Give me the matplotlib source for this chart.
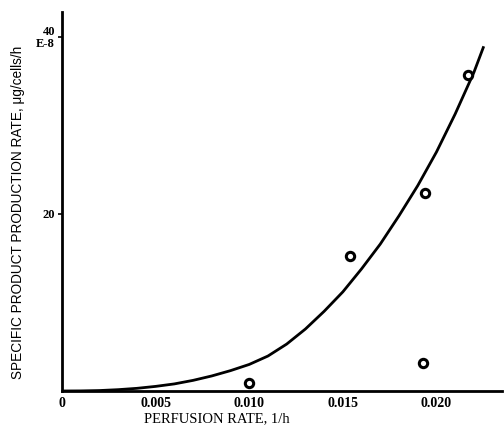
import numpy as np
import matplotlib.pyplot as plt

# measured points (perfusion rate 1/h, specific production rate)
rate = [0.0100, 0.0154, 0.0194, 0.0193, 0.0217]
prod = [0.9, 15.2, 22.4, 3.2, 35.7]

# fitted curve
fit_x = [0.0, 0.001, 0.002, 0.003, 0.004, 0.005, 0.006, 0.007, 0.008, 0.009, 0.010,
         0.011, 0.012, 0.013, 0.014, 0.015, 0.016, 0.017, 0.018, 0.019,
         0.020, 0.021, 0.022, 0.0225]
fit_y = [0.0, 0.01, 0.05, 0.15, 0.3, 0.52, 0.8, 1.2, 1.7, 2.3, 3.0,
         3.95, 5.3, 7.0, 9.0, 11.2, 13.8, 16.6, 19.8, 23.2,
         27.0, 31.3, 36.0, 38.8]

xticks = [0, 0.005, 0.010, 0.015, 0.020]
xlabels = ['0', '0.005', '0.010', '0.015', '0.020']
yticks = [20, 40]
ylabels = ['20', '40\nE-8']

fig = plt.figure(figsize=(5.04, 4.29), dpi=100)
ax = fig.add_axes([0.123, 0.0886, 0.873, 0.883])

ax.plot(fit_x, fit_y, color='black', lw=2)
ax.plot(rate, prod, 'o', ms=6, mfc='white', mec='black', mew=2.2)

ax.set_xlim(0, 0.0235)
ax.set_ylim(0, 42.8)
ax.spines['top'].set_visible(False)
ax.spines['right'].set_visible(False)
ax.spines['left'].set_linewidth(2)
ax.spines['bottom'].set_linewidth(2)

ax.set_xticks(xticks)
ax.set_xticklabels(xlabels, fontfamily='Liberation Serif', fontweight='bold', fontsize=10)
ax.set_yticks(yticks)
ax.set_yticklabels(ylabels, fontfamily='Liberation Serif', fontweight='bold', fontsize=9,
                   linespacing=0.9)
ax.tick_params(axis='x', length=0, pad=4)
ax.tick_params(axis='y', length=3, width=1.2, pad=2)

fig.text(0.43, 0.008, 'PERFUSION RATE, 1/h', ha='center', va='bottom',
         fontfamily='Liberation Serif', fontsize=10.5)
fig.text(0.035, 0.505, 'SPECIFIC PRODUCT PRODUCTION RATE, \u03bcg/cells/h', rotation=90,
         ha='center', va='center', fontfamily='Liberation Sans', fontsize=9.8)

fig.savefig('out.png', dpi=100)
